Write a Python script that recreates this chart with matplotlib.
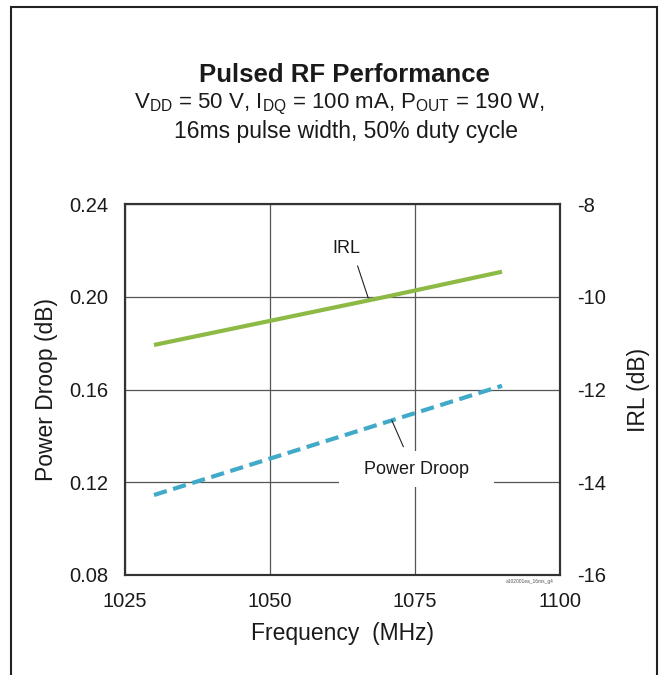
import matplotlib
matplotlib.use("Agg")
import matplotlib.pyplot as plt
from matplotlib.patches import Rectangle

plt.rcParams['font.family'] = ['Liberation Sans', 'DejaVu Sans']
plt.rcParams['mathtext.fontset'] = 'custom'
plt.rcParams['mathtext.rm'] = 'Liberation Sans'
plt.rcParams['mathtext.it'] = 'Liberation Sans'
plt.rcParams['axes.unicode_minus'] = False

# data
freq = [1030, 1050, 1070, 1090]
power_droop = [0.1145, 0.1302, 0.1459, 0.1616]
irl = [-11.04, -10.52, -10.0, -9.46]

x_ticks = [1025, 1050, 1075, 1100]
pd_ticks = [0.08, 0.12, 0.16, 0.20, 0.24]
irl_ticks = [-16, -14, -12, -10, -8]

green = '#8cba45'
blue = '#41aac8'
ink = '#1a1a1a'

fig = plt.figure(figsize=(6.65, 6.75), dpi=100)
ax = fig.add_axes([125/665, 100/675, 435/665, 371/675])
ax2 = ax.twinx()

ax.plot(freq, power_droop, color=blue, lw=3, dashes=(3.2, 1.6), zorder=3)
ax2.plot(freq, irl, color=green, lw=3, solid_capstyle='butt', zorder=3)

ax.set_xlim(1025, 1100)
ax.set_ylim(0.08, 0.24)
ax2.set_ylim(-16, -8)
ax.set_xticks(x_ticks)
ax.set_yticks(pd_ticks)
ax.set_yticklabels([f'{v:.2f}' for v in pd_ticks])
ax2.set_yticks(irl_ticks)
ax.grid(True, color='#555555', lw=0.9)
ax.set_axisbelow(True)

ax.tick_params(axis='both', length=0, labelsize=14.5, pad=12, colors=ink)
ax2.tick_params(axis='y', length=0, labelsize=14.5, pad=12, colors=ink)
for a in (ax, ax2):
    for s in a.spines.values():
        s.set_color('#333333')
        s.set_linewidth(1.5)

ax.set_xlabel('Frequency  (MHz)', fontsize=16.5, labelpad=8, color=ink)
ax.set_ylabel('Power Droop (dB)', fontsize=16.5, labelpad=8, color=ink)
ax2.set_ylabel('IRL (dB)', fontsize=16.5, labelpad=15, color=ink)

# annotations
ax.text(1063.1, 0.2206, 'IRL', fontsize=13, ha='center', va='center', color=ink)
ax.annotate('', xy=(1067, 0.1990), xytext=(1065.1, 0.2133),
            arrowprops=dict(arrowstyle='-', color='#222222', lw=0.8, shrinkA=0, shrinkB=0))
ax.text(1075.2, 0.1257, '   Power Droop   ', fontsize=13, ha='center', va='center',
        color=ink, zorder=4,
        bbox=dict(boxstyle='square,pad=0.55', fc='white', ec='none'))
ax.annotate('', xy=(1071, 0.1467), xytext=(1073, 0.1353),
            arrowprops=dict(arrowstyle='-', color='#222222', lw=0.8, shrinkA=0, shrinkB=0))

# titles
fig.text(0.518, 0.889, 'Pulsed RF Performance', fontsize=18.5, fontweight='bold',
         ha='center', va='center', color=ink)
fig.text(0.511, 0.845, r'V$_{\mathrm{DD}}$ = 50 V, I$_{\mathrm{DQ}}$ = 100 mA, P$_{\mathrm{OUT}}$ = 190 W,',
         fontsize=16, ha='center', va='center', color=ink)
fig.text(0.52, 0.805, '16ms pulse width, 50% duty cycle', fontsize=16.5,
         ha='center', va='center', color=ink)

fig.text(530/665, 1 - 582/675, 'a102001ea_16ms_g4', fontsize=3.5, ha='center',
         va='center', color='#555555')

# outer frame
fig.add_artist(Rectangle((11/665, -0.1), 646/665, 1.0896, transform=fig.transFigure,
                         fill=False, lw=1.5, ec='#222222'))

fig.savefig('out.png', dpi=100)
